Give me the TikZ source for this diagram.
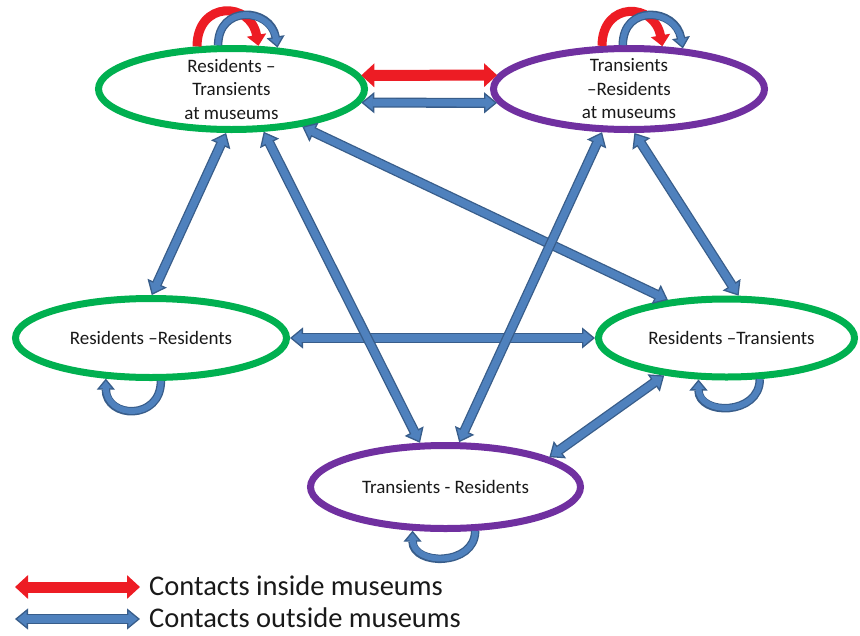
\documentclass[tikz,border=0pt]{standalone}
\usepackage{fontspec}
\setmainfont{Carlito}
\usetikzlibrary{shapes.geometric,arrows.meta}

\definecolor{grn}{HTML}{00B050}
\definecolor{prp}{HTML}{7030A0}
\definecolor{blufill}{HTML}{4F81BD}
\definecolor{bluline}{HTML}{385D8A}
\definecolor{redarr}{HTML}{ED1C24}

\begin{document}
\begin{tikzpicture}[x=1pt,y=-1pt]
        % Define styles
        \tikzset{
            group/.style={ellipse, draw, line width=7pt, fill=white},
            greengroup/.style={group, draw=grn},
            purplegroup/.style={group, draw=prp},
            grouptext/.style={font=\fontsize{19}{23.5}\selectfont, align=center, text=black!90},
            legendtext/.style={font=\fontsize{28.5}{32}\selectfont, text=black!90, anchor=west, inner sep=0pt},
            outside/.style={<->, >={Triangle[length=13pt,width=21pt,fill=blufill,line width=1.3pt]},
                draw=bluline, line width=10pt,
                postaction={draw=blufill, line width=7.4pt, -, shorten <=11pt, shorten >=11pt}},
            inside/.style={<->, >={Triangle[length=13pt,width=23pt]}, draw=redarr, line width=11pt},
            outloop/.style={->, >={Triangle[length=11pt,width=18pt,fill=blufill,line width=1.3pt]},
                draw=bluline, line width=8.5pt,
                postaction={draw=blufill, line width=5.9pt, -, shorten >=9pt}},
            inloop/.style={->, >={Triangle[length=11pt,width=19pt]}, draw=redarr, line width=9pt}
        }

        \useasboundingbox (0,0) rectangle (860,635);

        % Nodes
        \node[greengroup, minimum width=266pt, minimum height=81pt,
            label={[grouptext]center:Residents –\\Transients\\at museums}] (rtm) at (231.5,89) {};
        \node[purplegroup, minimum width=271pt, minimum height=81pt,
            label={[grouptext]center:Transients\\–Residents\\at museums}] (trm) at (629,89) {};
        \node[greengroup, minimum width=271pt, minimum height=79pt,
            label={[grouptext]center:Residents –Residents}] (rr) at (151,338) {};
        \node[greengroup, minimum width=256pt, minimum height=78pt,
            label={[grouptext, xshift=5pt]center:Residents –Transients}] (rt) at (726.5,338) {};
        \node[purplegroup, minimum width=270pt, minimum height=83pt,
            label={[grouptext]center:Transients - Residents}] (tr) at (445.5,487) {};

        % Arrows
        \draw[inside] (rtm.6) -- (trm.174);
        \draw[outside] (rtm.-6) -- (trm.186);
        \draw[outside] (rr.0) -- (rt.180);
        \draw[outside] (rtm.-97) -- (rr.89);
        \draw[outside] (rtm.-28) -- (rt.147);
        \draw[outside] (trm.-122) -- (tr.73);
        \draw[outside] (rtm.-53) -- (tr.120);
        \draw[outside] (trm.-83) -- (rt.74);
        \draw[outside] (rt.-149) -- (tr.16);

        % Loops
        \draw[inloop] (rtm.129) to[out=90, in=100, looseness=1.9] (rtm.58);
        \draw[outloop] (rtm.107) to[out=90, in=100, looseness=1.75] (rtm.42);
        \draw[inloop] (trm.122) to[out=90, in=100, looseness=1.9] (trm.52);
        \draw[outloop] (trm.98) to[out=90, in=100, looseness=1.75] (trm.37);
        \draw[outloop] (rr.-77) to[out=-90, in=-90, looseness=1.86] (rr.-138);
        \draw[outloop] (rt.-51) to[out=-90, in=-90, looseness=1.52] (rt.-124);
        \draw[outloop] (tr.-56) to[out=-90, in=-90, looseness=1.44] (tr.-127);

        % Legend
        \coordinate (redleft) at (15,587);
        \coordinate (redright) at (140,587);
        \coordinate (blueleft) at (15,619);
        \coordinate (blueright) at (140,619);
        \draw[inside] (redleft) -- (redright);
        \draw[outside] (blueleft) -- (blueright);
        \node[legendtext] (redtext) at (149,586) {Contacts inside museums};
        \node[legendtext] (bluetext) at (149,618) {Contacts outside museums};
    \end{tikzpicture}
\end{document}
